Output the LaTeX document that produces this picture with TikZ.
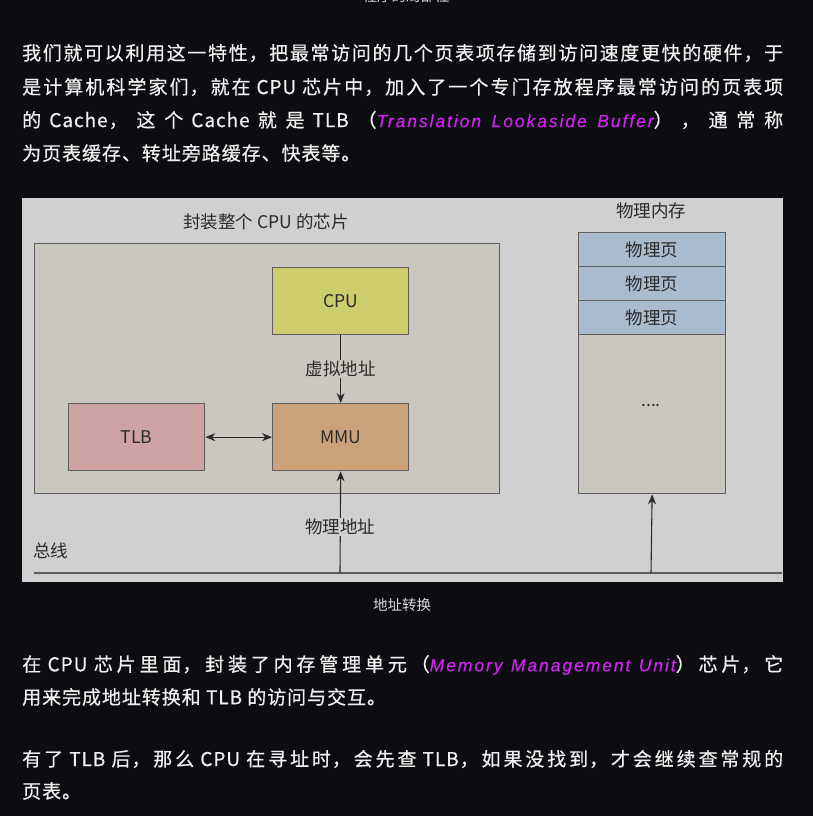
\documentclass[tikz,border=0pt]{standalone}
\usepackage{fontspec}
\setmainfont{Noto Sans CJK SC}
\newfontfamily\bodyfont[LetterSpace=5,FakeBold=0.5]{Noto Sans CJK SC}
\newfontfamily\itfont[LetterSpace=11,FakeBold=0.4]{Liberation Sans}
\newfontfamily\diafont{Noto Sans CJK SC}
\usetikzlibrary{arrows.meta}
\definecolor{pagebg}{HTML}{0C0D10}
\definecolor{bodytxt}{HTML}{F0F0F0}
\definecolor{mag}{HTML}{D022F0}
\definecolor{diabg}{HTML}{D0D0D0}
\definecolor{chipbg}{HTML}{C9C7BF}
\definecolor{cpufill}{HTML}{CDCD6E}
\definecolor{tlbfill}{HTML}{CDA3A3}
\definecolor{mmufill}{HTML}{CCA27A}
\definecolor{pagefill}{HTML}{A8BBCF}
\definecolor{edge}{HTML}{5E5E5E}
\definecolor{diatxt}{HTML}{2A2A2A}
\newcommand{\jline}[1]{\parbox{761pt}{\bodyfont\fontsize{19pt}{24pt}\selectfont\XeTeXlinebreaklocale "zh"\XeTeXlinebreakskip=0pt plus 8pt\tolerance=10000\parfillskip=0pt #1}}
\newcommand{\nline}[1]{{\bodyfont\fontsize{19pt}{24pt}\selectfont #1}}
\newcommand{\magit}[1]{{\color{mag}\itfont\itshape\fontsize{17.5pt}{24pt}\selectfont #1}}
\begin{document}
\begin{tikzpicture}[x=1pt,y=-1pt,
  txtline/.style={anchor=west,inner sep=0pt,text=bodytxt},
  box/.style={draw=edge,line width=1.3pt,inner sep=0pt,font=\diafont\fontsize{17.5pt}{19pt}\selectfont,text=diatxt},
  lbl/.style={inner sep=1pt,font=\diafont\fontsize{17.5pt}{19pt}\selectfont,text=diatxt},
  conn/.style={draw=diatxt,line width=1.1pt,-{Stealth[length=10pt,width=8pt]}},
  caption/.style={inner sep=0pt,text=bodytxt!90!black,font=\diafont\fontsize{14.5pt}{16pt}\selectfont}]
\fill[pagebg] (0,0) rectangle (813,816);
\useasboundingbox (0,0) rectangle (813,816);
% cut-off caption at top
\node[caption] (topcap) at (406,-4) {程序的局部性};
% paragraph 1
\node[txtline] (p1a) at (22,53) {\jline{我们就可以利用这一特性，把最常访问的几个页表项存储到访问速度更快的硬件，于}};
\node[txtline] (p1b) at (22,87) {\jline{是计算机科学家们，就在 CPU 芯片中，加入了一个专门存放程序最常访问的页表项}};
\node[txtline] (p1c) at (22,120) {\jline{的 Cache，这个 Cache 就是 TLB（\magit{Translation Lookaside Buffer}） ，通常称}};
\node[txtline] (p1d) at (22,153) {\nline{为页表缓存、转址旁路缓存、快表等。}};
% diagram background
\fill[diabg] (22,198) rectangle (783,582);
\node[box,fill=chipbg,minimum width=465pt,minimum height=250pt,anchor=north west] (chip) at (34,243) {};
\node[lbl,fill=none] (chiptitle) at (266,222) {封装整个 CPU 的芯片};
\node[box,fill=cpufill,minimum width=136pt,minimum height=67pt,anchor=north west] (cpu) at (272,267) {CPU};
\node[box,fill=tlbfill,minimum width=136pt,minimum height=67pt,anchor=north west] (tlb) at (68,403) {TLB};
\node[box,fill=mmufill,minimum width=136pt,minimum height=67pt,anchor=north west] (mmu) at (272,403) {MMU};
\node[lbl] (memtitle) at (651,211) {物理内存};
\node[box,fill=pagefill,minimum width=147pt,minimum height=34pt,anchor=north west] (pg1) at (578,232) {物理页};
\node[box,fill=pagefill,minimum width=147pt,minimum height=34pt,anchor=north west] (pg2) at (578,266) {物理页};
\node[box,fill=pagefill,minimum width=147pt,minimum height=34pt,anchor=north west] (pg3) at (578,300) {物理页};
\node[box,fill=chipbg,minimum width=147pt,minimum height=159pt,anchor=north west] (rest) at (578,334) {};
\node[lbl] (dots) at (651,406) {....};
% bus
\coordinate (busL) at (34,573);
\coordinate (busR) at (782,573);
\coordinate (busM) at (340,573);
\coordinate (busP) at (651,573);
\draw[edge,line width=2.2pt] (busL) -- (busR);
\node[lbl,anchor=west] (buslbl) at (32,551) {总线};
% connectors
\draw[conn] (cpu.south) -- node[lbl,fill=chipbg,pos=0.5] (va) {虚拟地址} (mmu.north);
\draw[conn,{Stealth[length=10pt,width=8pt]}-{Stealth[length=10pt,width=8pt]}] (tlb.east) -- (mmu.west);
\draw[conn] (busM) -- node[lbl,fill=diabg,pos=0.45] (pa) {物理地址} (mmu.south);
\draw[conn] (busP) -- (rest.south);
% caption
\node[caption] (cap) at (402,605) {地址转换};
% paragraph 2
\node[txtline] (p2a) at (22,665) {\jline{在 CPU 芯片里面，封装了内存管理单元（\magit{Memory Management Unit}）芯片，它}};
\node[txtline] (p2b) at (22,697) {\nline{用来完成地址转换和 TLB 的访问与交互。}};
% paragraph 3
\node[txtline] (p3a) at (22,759) {\jline{有了 TLB 后，那么 CPU 在寻址时，会先查 TLB，如果没找到，才会继续查常规的}};
\node[txtline] (p3b) at (22,791) {\nline{页表。}};
\end{tikzpicture}
\end{document}
